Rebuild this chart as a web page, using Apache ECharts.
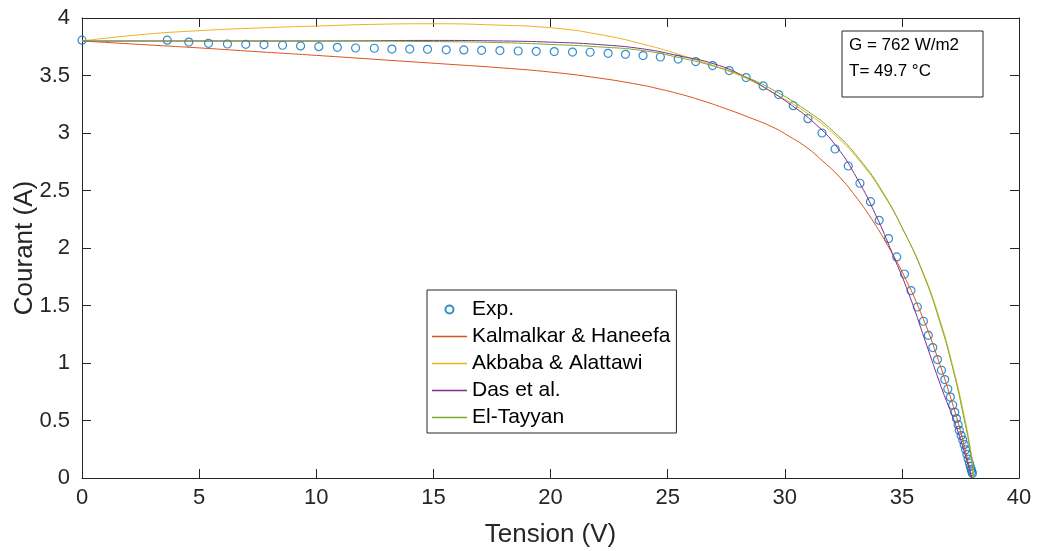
<!DOCTYPE html>
<html>
<head>
<meta charset="utf-8">
<script src="https://cdn.jsdelivr.net/npm/echarts@6/dist/echarts.min.js"></script>
<style>
  html, body { margin: 0; padding: 0; background: #fff; }
  #chart { width: 1037px; height: 551px; }
</style>
</head>
<body>
<div id="chart"></div>
<script>
// mesures
var expV = [0, 3.64, 4.56, 5.40, 6.21, 6.99, 7.77, 8.56, 9.33, 10.11, 10.90, 11.68, 12.48, 13.23, 13.99, 14.75,
  15.55, 16.30, 17.06, 17.84, 18.62, 19.39, 20.16, 20.94, 21.69, 22.46, 23.20, 23.95, 24.69, 25.45, 26.20, 26.92,
  27.63, 28.35, 29.08, 29.74, 30.36, 30.99, 31.59, 32.15, 32.71, 33.21, 33.66, 34.03, 34.43, 34.78, 35.11, 35.39,
  35.66, 35.92, 36.13, 36.32, 36.52, 36.69, 36.83, 36.96, 37.07, 37.17, 37.26, 37.33, 37.40, 37.45, 37.53,
  37.60, 37.66, 37.72, 37.78, 37.83, 37.88, 37.92, 37.96, 37.99, 38.01];
var expI = [3.807, 3.807, 3.791, 3.780, 3.774, 3.771, 3.769, 3.763, 3.757, 3.751, 3.745, 3.739, 3.737, 3.730, 3.730, 3.728,
  3.723, 3.722, 3.719, 3.717, 3.713, 3.710, 3.708, 3.704, 3.702, 3.693, 3.684, 3.673, 3.661, 3.643, 3.621, 3.586,
  3.543, 3.482, 3.409, 3.334, 3.238, 3.125, 3.000, 2.861, 2.713, 2.563, 2.403, 2.241, 2.082, 1.922, 1.774, 1.630,
  1.487, 1.363, 1.241, 1.134, 1.030, 0.937, 0.856, 0.774, 0.704, 0.635, 0.571, 0.517, 0.464, 0.415, 0.369,
  0.33, 0.29, 0.245, 0.205, 0.165, 0.13, 0.10, 0.075, 0.055, 0.04];

// modeles
var kalV = [0, 2.5, 5, 7.5, 10, 13.5, 15.5, 18, 20, 22, 23.8, 24.5, 25.5, 26.5, 27.5, 28.5, 29.5, 30.2, 30.91, 31.6, 32.34, 33.0, 33.7, 34.4, 35.1, 35.8, 36.5, 37.2, 37.6, 37.98];
var kalI = [3.80, 3.77, 3.74, 3.707, 3.675, 3.627, 3.60, 3.565, 3.53, 3.48, 3.42, 3.39, 3.34, 3.28, 3.21, 3.134, 3.05, 2.97, 2.878, 2.76, 2.617, 2.455, 2.255, 2.02, 1.755, 1.44, 1.06, 0.62, 0.33, 0];

var akbV = [0, 2.5, 5, 7.5, 10, 12.5, 15, 17.5, 20, 22, 24, 26, 27.5, 28.5, 29.5, 30.9, 32.1, 33.2, 34.2, 35.1, 35.9, 36.6, 37.2, 37.65, 37.95, 38.07];
var akbI = [3.80, 3.855, 3.89, 3.913, 3.93, 3.945, 3.95, 3.94, 3.915, 3.86, 3.77, 3.65, 3.545, 3.46, 3.35, 3.18, 2.99, 2.755, 2.47, 2.14, 1.79, 1.39, 0.95, 0.55, 0.22, 0];

var dasV = [0, 5, 10, 15, 18, 20, 22, 24, 25.5, 27, 28.3, 29.3, 30.3, 31.3, 32.2, 33.1, 33.9, 34.6, 35.3, 36.0, 36.7, 37.4, 37.98];
var dasI = [3.80, 3.80, 3.80, 3.805, 3.80, 3.79, 3.77, 3.73, 3.67, 3.60, 3.49, 3.375, 3.24, 3.08, 2.885, 2.60, 2.28, 1.95, 1.60, 1.19, 0.78, 0.40, 0];

var tayV = [0, 5, 10, 15, 18, 20, 22, 24, 25.5, 27, 28.3, 29.5, 30.9, 32.1, 33.2, 34.2, 35.1, 35.9, 36.6, 37.2, 37.65, 37.95, 38.05];
var tayI = [3.80, 3.80, 3.80, 3.795, 3.785, 3.77, 3.75, 3.715, 3.655, 3.58, 3.49, 3.375, 3.20, 3.01, 2.77, 2.48, 2.14, 1.78, 1.37, 0.93, 0.52, 0.20, 0];

var xTicks = [0, 5, 10, 15, 20, 25, 30, 35, 40];
var yTicks = [0, 0.5, 1, 1.5, 2, 2.5, 3, 3.5, 4];

function pts(v, i) {
  return v.map(function (x, k) { return [x, i[k]]; });
}

var font = "'Liberation Sans', Arial, Helvetica, sans-serif";
var axisCol = '#262626';
// trait simple pour la legende des courbes
var lineIcon = 'path://M0,0L35,0L35,1.6L0,1.6Z';

var myChart = echarts.init(document.getElementById('chart'));

function lineSerie(name, v, i, color) {
  return {
    name: name,
    type: 'line',
    data: pts(v, i),
    smooth: 0.5,
    symbol: 'none',
    lineStyle: { color: color, width: 1 },
    itemStyle: { color: color },
    z: 3
  };
}

var option = {
  animation: false,
  backgroundColor: '#fff',
  textStyle: { fontFamily: font },
  grid: { left: 82, right: 18, top: 18, bottom: 73, containLabel: false, outerBoundsMode: 'none' },
  xAxis: [{
    type: 'value',
    min: xTicks[0], max: xTicks[xTicks.length - 1], interval: 5,
    name: 'Tension (V)', nameLocation: 'middle', nameGap: 44, nameMoveOverlap: false,
    nameTextStyle: { fontSize: 26, color: axisCol, fontFamily: font },
    axisLine: { lineStyle: { color: axisCol, width: 1 } },
    axisTick: { inside: true, length: 9, lineStyle: { color: axisCol } },
    axisLabel: { fontSize: 22, color: axisCol, margin: 9, fontFamily: font },
    splitLine: { show: false }
  }, {
    type: 'value', position: 'top',
    min: 0, max: 40, interval: 5,
    axisLine: { onZero: false, lineStyle: { color: axisCol, width: 1 } },
    axisTick: { inside: true, length: 9, lineStyle: { color: axisCol } },
    axisLabel: { show: false },
    splitLine: { show: false }
  }],
  yAxis: [{
    type: 'value',
    min: yTicks[0], max: yTicks[yTicks.length - 1], interval: 0.5,
    name: 'Courant (A)', nameLocation: 'middle', nameGap: 44, nameMoveOverlap: false,
    nameTextStyle: { fontSize: 26, color: axisCol, fontFamily: font },
    axisLine: { show: true, lineStyle: { color: axisCol, width: 1 } },
    axisTick: { show: true, inside: true, length: 9, lineStyle: { color: axisCol } },
    axisLabel: { fontSize: 22, color: axisCol, margin: 12, fontFamily: font },
    splitLine: { show: false }
  }, {
    type: 'value', position: 'right',
    min: 0, max: 4, interval: 0.5,
    axisLine: { show: true, onZero: false, lineStyle: { color: axisCol, width: 1 } },
    axisTick: { show: true, inside: true, length: 9, lineStyle: { color: axisCol } },
    axisLabel: { show: false },
    splitLine: { show: false }
  }],
  legend: {
    orient: 'vertical',
    left: 427, top: 290,
    padding: [9, 6, 5, 5],
    itemGap: 6,
    itemWidth: 35,
    itemHeight: 8,
    backgroundColor: '#fff',
    borderColor: axisCol,
    borderWidth: 1,
    borderRadius: 0,
    textStyle: { fontSize: 21, color: '#000', fontFamily: font, lineHeight: 21 },
    data: [
      { name: 'Exp.' },
      { name: 'Kalmalkar & Haneefa', icon: lineIcon },
      { name: 'Akbaba & Alattawi', icon: lineIcon },
      { name: 'Das et al.', icon: lineIcon },
      { name: 'El-Tayyan', icon: lineIcon }
    ]
  },
  graphic: [{
    type: 'rect',
    shape: { x: 842, y: 31, width: 141, height: 66 },
    style: { fill: '#fff', stroke: axisCol, lineWidth: 1 },
    z: 10
  }, {
    type: 'text', x: 849, y: 45, z: 11,
    style: { text: 'G = 762 W/m2', fontSize: 17, fontFamily: font, fill: '#000', verticalAlign: 'middle' }
  }, {
    type: 'text', x: 849, y: 71, z: 11,
    style: { text: 'T= 49.7 °C', fontSize: 17, fontFamily: font, fill: '#000', verticalAlign: 'middle' }
  }],
  series: [{
    name: 'Exp.',
    type: 'scatter',
    data: pts(expV, expI),
    symbol: 'circle',
    symbolSize: 8,
    itemStyle: { color: 'rgba(255,255,255,0)', borderColor: '#0072BD', borderWidth: 1.2 },
    z: 2
  },
    lineSerie('Kalmalkar & Haneefa', kalV, kalI, '#D95319'),
    lineSerie('Akbaba & Alattawi', akbV, akbI, '#EDB120'),
    lineSerie('Das et al.', dasV, dasI, '#7E2F8E'),
    lineSerie('El-Tayyan', tayV, tayI, '#77AC30')
  ]
};

myChart.setOption(option);
</script>
</body>
</html>
